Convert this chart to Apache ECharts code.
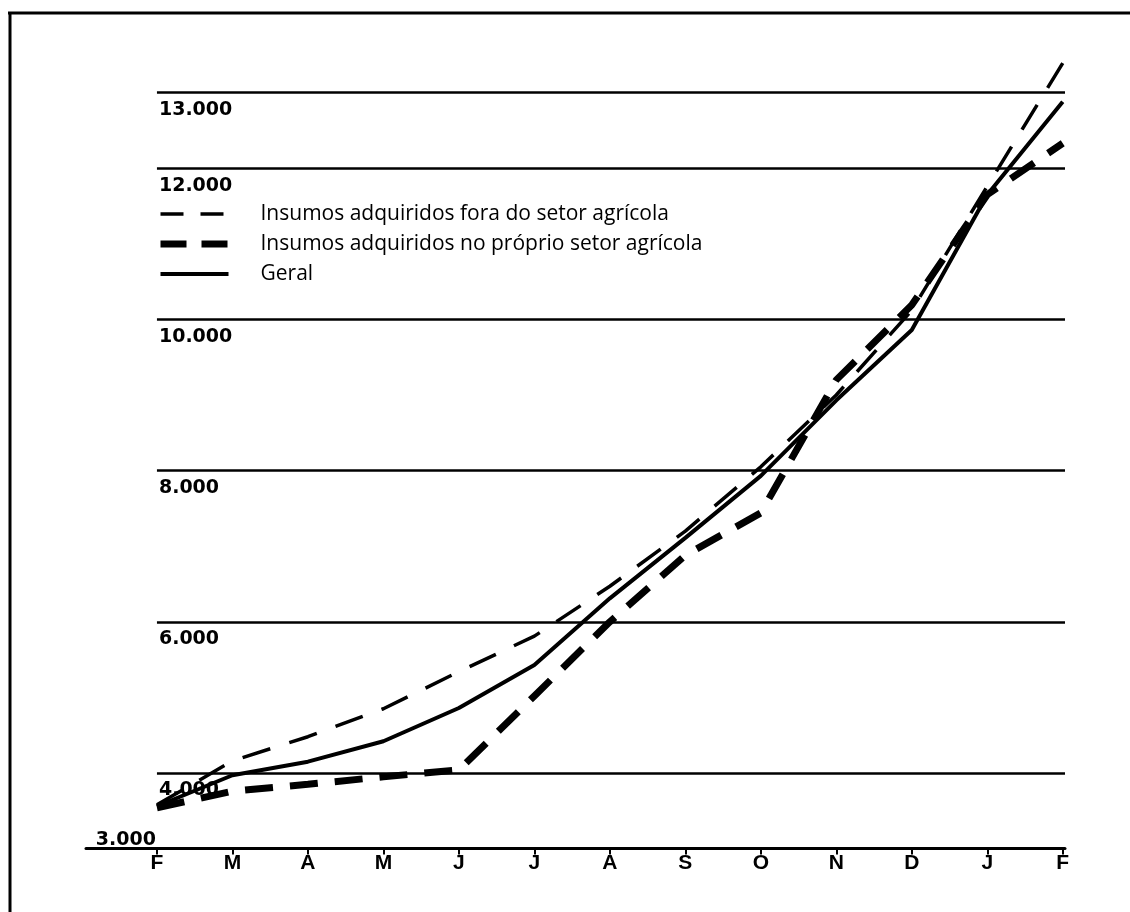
<!DOCTYPE html>
<html>
<head>
<meta charset="utf-8">
<script src="https://cdn.jsdelivr.net/npm/echarts@6/dist/echarts.min.js"></script>
<style>
  html, body { margin: 0; padding: 0; background: #fff; }
  #chart { width: 1130px; height: 912px; }
</style>
</head>
<body>
<div id="chart"></div>
<script>
// ---- data ----
const months = ['F', 'M', 'A', 'M', 'J', 'J', 'A', 'S', 'O', 'N', 'D', 'J', 'F'];
const seriesNames = [
  'Insumos adquiridos fora do setor agrícola',
  'Insumos adquiridos no próprio setor agrícola',
  'Geral'
];
const foraValues    = [3580, 4160, 4480, 4850, 5340, 5810, 6470, 7200, 8050, 9000, 10120, 11760, 13390];
const proprioValues = [3540, 3760, 3850, 3950, 4040, 5020, 6000, 6880, 7440, 9200, 10190, 11650, 12330];
const geralValues   = [3560, 3970, 4150, 4420, 4860, 5430, 6310, 7110, 7930, 8930, 9860, 11650, 12880];
const gridValues    = [3000, 4000, 6000, 8000, 10000, 12000, 13000];

// ---- chart ----
const chart = echarts.init(document.getElementById('chart'), null, { renderer: 'canvas' });
const xMin = -0.94, xMax = 12.03;
const fmt = v => String(v).replace(/\B(?=(\d{3})+(?!\d))/g, '.');
const toPts = arr => arr.map((v, i) => [i, v]);
const BLACK = '#000';

const gridLines = gridValues.map(v => {
  const first = v === gridValues[0];
  return [
    {
      coord: [0, v],
      label: first
        ? { show: true, position: 'start', distance: 1, offset: [0, -9], formatter: fmt(v) }
        : { show: true, position: 'insideStartBottom', distance: [2, 8], formatter: fmt(v) }
    },
    { coord: [xMax, v] }
  ];
});

const styles = [
  { width: 3.5, type: [29, 20] },
  { width: 7, type: [28, 17] },
  { width: 4, type: 'solid' }
];
const legendDash = [[23, 17], [26, 15], 'solid'];

chart.setOption({
  backgroundColor: '#fff',
  animation: false,
  grid: { left: 86, right: 65, top: 17, bottom: 63.4, containLabel: false },
  xAxis: {
    type: 'value', min: xMin, max: xMax,
    axisLine: { show: true, lineStyle: { color: BLACK, width: 3 } },
    axisTick: { show: true, customValues: months.map((m, i) => i), length: 6, lineStyle: { color: BLACK, width: 2 } },
    axisLabel: {
      show: true, customValues: months.map((m, i) => i), formatter: v => months[Math.round(v)],
      color: BLACK, fontFamily: 'Liberation Sans', fontWeight: 'bold', fontSize: 21, margin: 4
    },
    splitLine: { show: false }
  },
  yAxis: {
    type: 'value', min: 3000, max: 14000,
    axisLine: { show: false }, axisTick: { show: false }, axisLabel: { show: false }, splitLine: { show: false }
  },
  legend: {
    orient: 'vertical', left: 152, top: 198,
    itemWidth: 68, itemHeight: 8, itemGap: 8,
    itemStyle: { opacity: 0 },
    data: seriesNames.map((n, i) => ({
      name: n,
      lineStyle: { color: BLACK, width: styles[i].width, type: legendDash[i], cap: 'butt' },
      itemStyle: { opacity: 0 }
    })),
    textStyle: { color: BLACK, fontFamily: 'Open Sans', fontSize: 21, lineHeight: 22, padding: [0, 0, 0, 27] }
  },
  graphic: [
    { type: 'line', shape: { x1: 8, y1: 13, x2: 1130, y2: 13 }, style: { stroke: BLACK, lineWidth: 3 } },
    { type: 'line', shape: { x1: 10, y1: 12, x2: 10, y2: 912 }, style: { stroke: BLACK, lineWidth: 3 } }
  ],
  series: [
    {
      name: seriesNames[0], type: 'line', data: toPts(foraValues), symbol: 'none',
      lineStyle: { color: BLACK, width: styles[0].width, type: styles[0].type, cap: 'butt' }, itemStyle: { color: BLACK }
    },
    {
      name: seriesNames[1], type: 'line', data: toPts(proprioValues), symbol: 'none',
      lineStyle: { color: BLACK, width: styles[1].width, type: styles[1].type, cap: 'butt' }, itemStyle: { color: BLACK }
    },
    {
      name: seriesNames[2], type: 'line', data: toPts(geralValues), symbol: 'none',
      lineStyle: { color: BLACK, width: styles[2].width }, itemStyle: { color: BLACK },
      markLine: {
        silent: true, symbol: ['none', 'none'], animation: false,
        lineStyle: { color: BLACK, width: 2.5, type: 'solid' },
        label: { color: BLACK, fontFamily: 'DejaVu Sans', fontWeight: 'bold', fontSize: 19 },
        emphasis: { disabled: true },
        data: gridLines
      }
    }
  ]
});
</script>
</body>
</html>
